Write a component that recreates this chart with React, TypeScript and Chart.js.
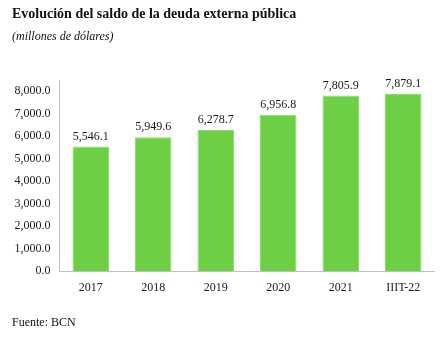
import React, { useEffect, useRef } from "react";
import { Chart, registerables } from "chart.js";

Chart.register(...registerables);

const categories = ["2017", "2018", "2019", "2020", "2021", "IIIT-22"];
const values = [5546.1, 5949.6, 6278.7, 6956.8, 7805.9, 7879.1];
const yTicks = [0, 1000, 2000, 3000, 4000, 5000, 6000, 7000, 8000];

const SERIF = "'Liberation Serif', 'DejaVu Serif', serif";

const fmt = (v: number) =>
  v.toLocaleString("en-US", { minimumFractionDigits: 1, maximumFractionDigits: 1 });

const labelPlugin = {
  id: "barLabels",
  afterDatasetsDraw(chart: any) {
    const ctx = chart.ctx;
    const meta = chart.getDatasetMeta(0);
    ctx.save();
    ctx.font = `12px ${SERIF}`;
    ctx.fillStyle = "#1a1a1a";
    ctx.textAlign = "center";
    ctx.textBaseline = "bottom";
    meta.data.forEach((bar: any, i: number) => {
      ctx.fillText(fmt(values[i]), bar.x, bar.y - 4);
    });
    ctx.restore();
  },
};

export default function App() {
  const ref = useRef<HTMLCanvasElement | null>(null);
  useEffect(() => {
    document.body.style.margin = "0";
    const chart = new Chart(ref.current as HTMLCanvasElement, {
      type: "bar",
      data: {
        labels: categories,
        datasets: [
          {
            data: values,
            backgroundColor: "#6CCF44",
            borderColor: "#8EDB6E",
            borderWidth: 1,
            categoryPercentage: 1,
            barPercentage: 0.585,
          },
        ],
      },
      options: {
        animation: false,
        responsive: false,
        maintainAspectRatio: false,
        layout: { padding: { top: 80, right: 6.5, bottom: 38, left: 0 } },
        plugins: { legend: { display: false }, tooltip: { enabled: false } },
        scales: {
          x: {
            grid: { display: false, drawTicks: false },
            border: { display: true, color: "#bfbfbf", width: 1 },
            ticks: {
              font: { family: SERIF, size: 12 },
              color: "#1a1a1a",
              padding: 10,
            },
            afterFit(scale: any) {
              scale.height = 30;
            },
          },
          y: {
            min: 0,
            max: 8500,
            grid: { display: false, drawTicks: false },
            border: { display: true, color: "#bfbfbf", width: 1 },
            ticks: {
              stepSize: 1000,
              font: { family: SERIF, size: 12 },
              color: "#1a1a1a",
              padding: 9,
              callback: (v: any) => fmt(Number(v)),
            },
            afterBuildTicks(scale: any) {
              scale.ticks = yTicks.map((v) => ({ value: v }));
            },
            afterFit(scale: any) {
              scale.width = 59.5;
            },
          },
        },
      },
      plugins: [labelPlugin],
    });
    return () => chart.destroy();
  }, []);

  return (
    <div style={{ position: "relative", width: 441, height: 339, background: "#fff", fontFamily: SERIF }}>
      <canvas ref={ref} width={441} height={339} style={{ position: "absolute", left: 0, top: 0 }} />
      <div style={{ position: "absolute", left: 12, top: 6, fontSize: 14, fontWeight: "bold", color: "#111", whiteSpace: "nowrap" }}>
        Evolución del saldo de la deuda externa pública
      </div>
      <div style={{ position: "absolute", left: 12, top: 29, fontSize: 12, fontStyle: "italic", color: "#111", whiteSpace: "nowrap" }}>
        (millones de dólares)
      </div>
      <div style={{ position: "absolute", left: 12, top: 315, fontSize: 12, color: "#111", whiteSpace: "nowrap" }}>
        Fuente: BCN
      </div>
    </div>
  );
}
